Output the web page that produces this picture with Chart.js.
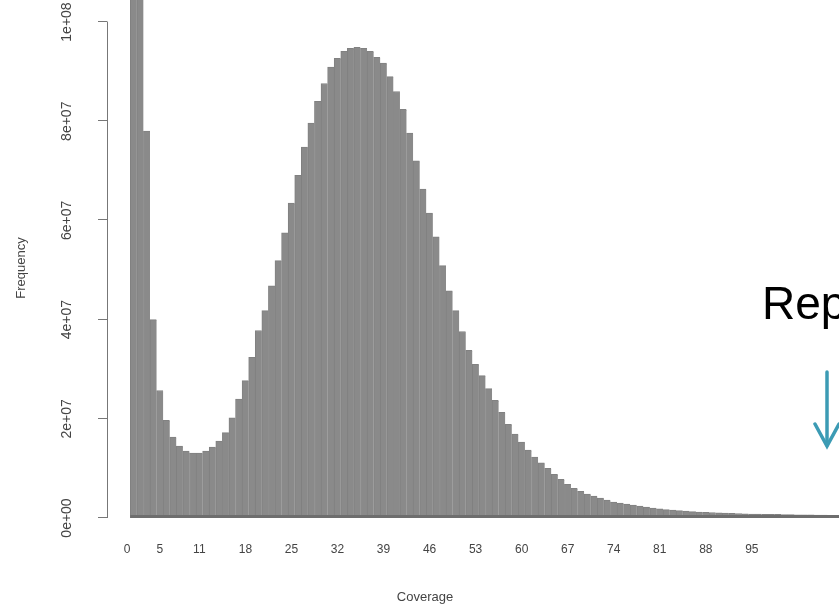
<!DOCTYPE html>
<html>
<head>
<meta charset="utf-8">
<script src="https://cdn.jsdelivr.net/npm/chart.js@4/dist/chart.umd.min.js"></script>
<style>
    html, body { margin: 0; padding: 0; background: #fff; }
    body { width: 839px; height: 612px; overflow: hidden; position: relative; }
    #wrap { position: absolute; left: 0; top: 0; width: 868px; height: 612px; }
    .rep { position: absolute; left: 762px; top: 280px; font: 46px/46px "Liberation Sans", Arial, sans-serif; color: #000; white-space: nowrap; }
    svg { position: absolute; left: 0; top: 0; pointer-events: none; }
</style>
</head>
<body>
<div id="wrap"><canvas id="chart"></canvas></div>
<div class="rep">Rep</div>
<svg width="839" height="612">
    <line x1="827" y1="372" x2="827" y2="445" stroke="#3c9bb4" stroke-width="3.5" stroke-linecap="round"/>
    <polyline points="815,424 827,446 839,424" fill="none" stroke="#3c9bb4" stroke-width="3.5" stroke-linecap="round"/>
</svg>
<script>
// coverage bins 0..109
const coverage = [
    0, 1, 2, 3, 4, 5, 6, 7, 8, 9,
    10, 11, 12, 13, 14, 15, 16, 17, 18, 19,
    20, 21, 22, 23, 24, 25, 26, 27, 28, 29,
    30, 31, 32, 33, 34, 35, 36, 37, 38, 39,
    40, 41, 42, 43, 44, 45, 46, 47, 48, 49,
    50, 51, 52, 53, 54, 55, 56, 57, 58, 59,
    60, 61, 62, 63, 64, 65, 66, 67, 68, 69,
    70, 71, 72, 73, 74, 75, 76, 77, 78, 79,
    80, 81, 82, 83, 84, 85, 86, 87, 88, 89,
    90, 91, 92, 93, 94, 95, 96, 97, 98, 99,
    100, 101, 102, 103, 104, 105, 106, 107, 108, 109,
];
const frequency = [
    0, 1.6e8, 1.25e8, 7.8e7, 4.0e7, 2.57e7, 1.97e7, 1.63e7, 1.45e7, 1.35e7,
    1.31e7, 1.31e7, 1.35e7, 1.43e7, 1.55e7, 1.72e7, 2.02e7, 2.4e7, 2.77e7, 3.24e7,
    3.78e7, 4.18e7, 4.68e7, 5.19e7, 5.75e7, 6.35e7, 6.91e7, 7.48e7, 7.96e7, 8.4e7,
    8.76e7, 9.09e7, 9.27e7, 9.41e7, 9.47e7, 9.49e7, 9.47e7, 9.41e7, 9.29e7, 9.17e7,
    8.9e7, 8.6e7, 8.24e7, 7.76e7, 7.2e7, 6.63e7, 6.15e7, 5.67e7, 5.09e7, 4.58e7,
    4.18e7, 3.76e7, 3.38e7, 3.1e7, 2.87e7, 2.61e7, 2.37e7, 2.13e7, 1.89e7, 1.69e7,
    1.53e7, 1.37e7, 1.23e7, 1.11e7, 1.0e7, 8.8e6, 7.8e6, 6.8e6, 6.0e6, 5.4e6,
    4.8e6, 4.4e6, 4.0e6, 3.6e6, 3.2e6, 3.0e6, 2.8e6, 2.6e6, 2.4e6, 2.2e6,
    2.0e6, 1.85e6, 1.7e6, 1.6e6, 1.5e6, 1.4e6, 1.3e6, 1.2e6, 1.15e6, 1.1e6,
    1.05e6, 1.0e6, 0.95e6, 0.9e6, 0.85e6, 0.8e6, 0.78e6, 0.76e6, 0.74e6, 0.72e6,
    0.7e6, 0.68e6, 0.66e6, 0.64e6, 0.62e6, 0.6e6, 0.58e6, 0.56e6, 0.55e6, 0.54e6,
];
const xTickLabels = [0, 5, 11, 18, 25, 32, 39, 46, 53, 60, 67, 74, 81, 88, 95];
const yTickValues = [0, 2e7, 4e7, 6e7, 8e7, 1e8];
const yTickLabels = ['0e+00', '2e+07', '4e+07', '6e+07', '8e+07', '1e+08'];
const yMax = 1.0444e8;
const xTitle = 'Coverage';
const yTitle = 'Frequency';

const FONT = '"Liberation Sans", Arial, sans-serif';
const TEXT = '#444';

// R style axes: y axis set off from the bars, rotated labels, titles
const rAxis = {
    id: 'rAxis',
    afterDraw(chart) {
        const { ctx, scales: { x, y } } = chart;
        ctx.save();
        ctx.strokeStyle = '#777';
        ctx.lineWidth = 1;
        const axisX = 107.5;
        ctx.beginPath();
        ctx.moveTo(axisX, y.getPixelForValue(yTickValues[yTickValues.length - 1]));
        ctx.lineTo(axisX, y.getPixelForValue(0));
        yTickValues.forEach((v) => {
            const py = Math.round(y.getPixelForValue(v)) - 0.5;
            ctx.moveTo(axisX, py);
            ctx.lineTo(98, py);
        });
        ctx.stroke();

        ctx.fillStyle = TEXT;
        ctx.font = `14px ${FONT}`;
        ctx.textAlign = 'center';
        ctx.textBaseline = 'middle';
        yTickValues.forEach((v, i) => {
            ctx.save();
            ctx.translate(67, y.getPixelForValue(v));
            ctx.rotate(-Math.PI / 2);
            ctx.fillText(yTickLabels[i], 0, 0);
            ctx.restore();
        });

        ctx.font = `13px ${FONT}`;
        ctx.fillText(xTitle, 425, 597);
        ctx.save();
        ctx.translate(21, 268);
        ctx.rotate(-Math.PI / 2);
        ctx.fillText(yTitle, 0, 0);
        ctx.restore();

        // dark base under the bars
        const base = y.getPixelForValue(0);
        ctx.strokeStyle = '#6e6e6e';
        ctx.lineWidth = 3;
        ctx.beginPath();
        ctx.moveTo(x.getPixelForValue(1) - 3.3, base - 1.5);
        ctx.lineTo(chart.chartArea.right, base - 1.5);
        ctx.stroke();
        ctx.restore();
    },
};

new Chart(document.getElementById('chart'), {
    type: 'bar',
    data: {
        labels: coverage.map(String),
        datasets: [{
            data: frequency,
            backgroundColor: '#8a8a8a',
            borderColor: '#818181',
            borderWidth: { left: 1, right: 0, top: 1, bottom: 0 },
            borderSkipped: false,
            barPercentage: 1,
            categoryPercentage: 1,
        }],
    },
    options: {
        responsive: true,
        maintainAspectRatio: false,
        animation: false,
        layout: { padding: { left: 0, right: 13.6, top: 0, bottom: 0 } },
        plugins: { legend: { display: false }, tooltip: { enabled: false } },
        scales: {
            x: {
                grid: { display: false, drawTicks: false },
                border: { display: false },
                ticks: {
                    autoSkip: false,
                    maxRotation: 0,
                    minRotation: 0,
                    padding: 24,
                    color: TEXT,
                    font: { family: FONT, size: 12 },
                    callback: (v, i) => (xTickLabels.includes(coverage[i]) ? String(coverage[i]) : ''),
                },
                afterFit: (s) => { s.height = 94; },
            },
            y: {
                min: 0,
                max: yMax,
                grid: { display: false, drawTicks: false },
                border: { display: false },
                ticks: { display: false },
                afterFit: (s) => { s.width = 123.7; },
            },
        },
    },
    plugins: [rAxis],
});
</script>
</body>
</html>
